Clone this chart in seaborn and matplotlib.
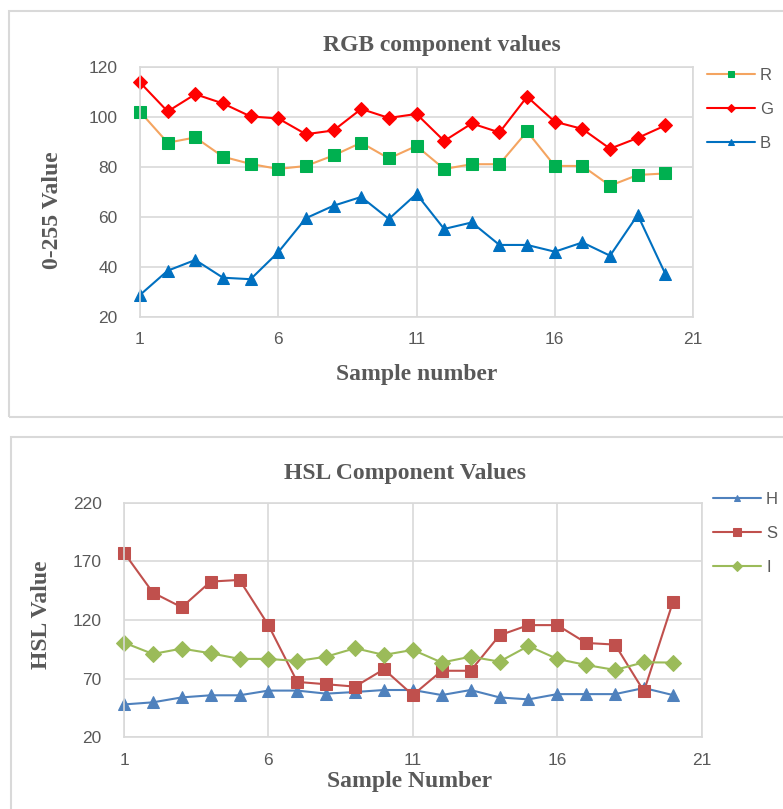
import matplotlib
matplotlib.use("Agg")
import matplotlib.pyplot as plt
import matplotlib.patches as mpatches
import seaborn as sns

# ---- data ----
samples = list(range(1, 21))
r_vals = [102, 89.6, 91.7, 84, 81.1, 79.1, 80.3, 84.5, 89.6, 83.3,
          88.3, 79.1, 81, 81, 94.1, 80.3, 80.3, 72.4, 76.7, 77.3]
g_vals = [113.7, 102.1, 109, 105.3, 100.1, 99.3, 93, 94.5, 103.1, 99.5,
          101.1, 90.3, 97.3, 93.7, 108, 98, 95.1, 87.2, 91.5, 96.5]
b_vals = [28.7, 38.4, 42.7, 35.6, 35, 45.8, 59.4, 64.4, 67.9, 59.1,
          69.1, 55.1, 57.7, 48.7, 48.7, 46, 49.7, 44.4, 60.7, 37.1]

h_vals = [48, 49.8, 54, 55.8, 55.8, 59.8, 59.8, 57.2, 58.6, 60.3,
          60.3, 56, 60.3, 54, 52.3, 56.8, 56.8, 56.8, 62, 56]
s_vals = [177.4, 143.3, 130.8, 152.7, 154.1, 115.5, 67.2, 65.2, 63.2, 78,
          56, 76.7, 76.7, 106.9, 115.6, 115.6, 100.4, 99, 59.2, 135]
i_vals = [100.7, 91, 95.6, 91.6, 86.8, 86.8, 85, 88.7, 95.9, 90.2,
          94.5, 83.7, 88.7, 84.5, 97.8, 86.8, 81.6, 77.4, 83.9, 83.7]

x_ticks = [1, 6, 11, 16, 21]
rgb_yticks = [20, 40, 60, 80, 100, 120]
hsl_yticks = [20, 70, 120, 170, 220]

sns.set_theme(style="whitegrid")
plt.rcParams['font.family'] = ['Liberation Sans', 'DejaVu Sans']

TXT = "#595959"
GRID = "#D9D9D9"
SERIF = ['Liberation Serif', 'DejaVu Serif']

fig = plt.figure(figsize=(7.83, 8.09), dpi=100)
fig.patch.set_facecolor("white")

# chart-area frames
fig.patches.append(mpatches.Rectangle((9 / 783, 1 - 417 / 809), 1.2, 406 / 809,
                                      transform=fig.transFigure, fill=False,
                                      edgecolor=GRID, linewidth=1.5, zorder=0))
fig.patches.append(mpatches.Rectangle((11 / 783, -0.1), 1.2, 0.1 + 1 - 437 / 809,
                                      transform=fig.transFigure, fill=False,
                                      edgecolor=GRID, linewidth=1.5, zorder=0))

ax1 = fig.add_axes([140 / 783, 1 - 316.7 / 809, 553 / 783, 250 / 809])
ax2 = fig.add_axes([124 / 783, 1 - 737.3 / 809, 577.7 / 783, 234.7 / 809])


def style_axes(ax, yticks):
    ax.set_facecolor("white")
    ax.set_xlim(1, 21)
    ax.set_ylim(yticks[0], yticks[-1])
    ax.set_xticks(x_ticks)
    ax.set_yticks(yticks)
    ax.grid(True, color=GRID, linewidth=1.2)
    for sp in ax.spines.values():
        sp.set_color(GRID)
        sp.set_linewidth(1.2)
    ax.tick_params(axis='both', length=0, labelsize=12.5, labelcolor=TXT)
    ax.tick_params(axis='y', pad=16)
    ax.tick_params(axis='x', pad=11)


# ---- RGB ----
sns.lineplot(x=samples, y=r_vals, ax=ax1, color="#F4A460", linewidth=1.5,
             marker='s', markersize=8, markerfacecolor="#00B050",
             markeredgecolor="#00B050", label="R", clip_on=False)
sns.lineplot(x=samples, y=g_vals, ax=ax1, color="#FF0000", linewidth=1.5,
             marker='D', markersize=7, markerfacecolor="#FF0000",
             markeredgecolor="#FF0000", label="G", clip_on=False)
sns.lineplot(x=samples, y=b_vals, ax=ax1, color="#0070C0", linewidth=1.5,
             marker='^', markersize=8, markerfacecolor="#0070C0",
             markeredgecolor="#0070C0", label="B", clip_on=False)
style_axes(ax1, rgb_yticks)

# ---- HSL ----
sns.lineplot(x=samples, y=h_vals, ax=ax2, color="#4F81BD", linewidth=1.5,
             marker='^', markersize=8, markerfacecolor="#4F81BD",
             markeredgecolor="#4F81BD", label="H", clip_on=False)
sns.lineplot(x=samples, y=s_vals, ax=ax2, color="#C0504D", linewidth=1.5,
             marker='s', markersize=9, markerfacecolor="#C0504D",
             markeredgecolor="#C0504D", label="S", clip_on=False)
sns.lineplot(x=samples, y=i_vals, ax=ax2, color="#9BBB59", linewidth=1.5,
             marker='D', markersize=8, markerfacecolor="#9BBB59",
             markeredgecolor="#9BBB59", label="I", clip_on=False)
style_axes(ax2, hsl_yticks)

# legends on the right
for ax, anchor in ((ax1, (700 / 783, 1 - 61 / 809)), (ax2, (706 / 783, 1 - 485 / 809))):
    leg = ax.legend(loc="upper left", bbox_to_anchor=anchor,
                    bbox_transform=fig.transFigure, frameon=False,
                    fontsize=12, handlelength=2.9, labelspacing=1.15,
                    handletextpad=0.3, markerscale=0.6, borderaxespad=0)
    for t in leg.get_texts():
        t.set_color(TXT)

# titles and axis labels
fig.text(442 / 783, 1 - 45 / 809, "RGB component values", ha="center", va="center",
         family=SERIF, fontweight="bold", fontsize=17, color=TXT)
fig.text(405 / 783, 1 - 474 / 809, "HSL Component Values", ha="center", va="center",
         family=SERIF, fontweight="bold", fontsize=17, color=TXT)

ax1.set_xlabel("Sample number", family=SERIF, fontweight="bold", fontsize=17, color=TXT)
ax1.xaxis.set_label_coords(0.501, -0.19)
ax1.set_ylabel("0-255 Value", family=SERIF, fontweight="bold", fontsize=17, color=TXT)
ax1.yaxis.set_label_coords(-0.139, 0.427)

ax2.set_xlabel("Sample Number", family=SERIF, fontweight="bold", fontsize=17, color=TXT)
ax2.xaxis.set_label_coords(0.495, -0.145)
ax2.set_ylabel("HSL Value", family=SERIF, fontweight="bold", fontsize=17, color=TXT)
ax2.yaxis.set_label_coords(-0.125, 0.521)

fig.savefig("out.png", dpi=100)
